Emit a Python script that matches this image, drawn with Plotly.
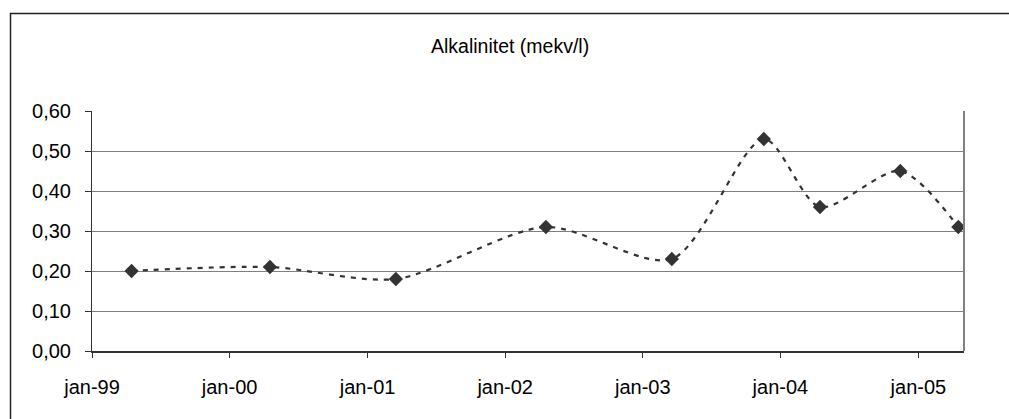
import plotly.graph_objects as go

# Sampling dates and alkalinity measurements
dates = ["1999-04-16", "2000-04-17", "2001-03-17", "2002-04-19", "2003-03-19",
         "2003-11-18", "2004-04-15", "2004-11-14", "2005-04-17"]
alkalinity = [0.20, 0.21, 0.18, 0.31, 0.23, 0.53, 0.36, 0.45, 0.31]

x_tick_dates = ["1999-01-01", "2000-01-01", "2001-01-01", "2002-01-01",
                "2003-01-01", "2004-01-01", "2005-01-01"]
x_tick_labels = ["jan-99", "jan-00", "jan-01", "jan-02", "jan-03", "jan-04", "jan-05"]
y_tick_vals = [0.0, 0.1, 0.2, 0.3, 0.4, 0.5, 0.6]
y_tick_labels = ["0,00", "0,10", "0,20", "0,30", "0,40", "0,50", "0,60"]

title_text = "Alkalinitet (mekv/l)"

W, H = 1009, 419
ML, MR, MT, MB = 92, 45, 111, 68
PW, PH = W - ML - MR, H - MT - MB

FONT = "Liberation Sans, Arial, sans-serif"

fig = go.Figure()
fig.add_trace(go.Scatter(
    x=dates, y=alkalinity,
    mode="lines+markers",
    line=dict(color="#333333", width=2.2, dash="5px,6px", shape="spline", smoothing=0.8),
    marker=dict(symbol="diamond", size=11, color="#333333"),
    showlegend=False,
))

def px_x(p):
    return (p - ML) / PW

def px_y(p):
    return (H - MB - p) / PH

shapes = [
    # outer chart frame (left and top edges visible)
    dict(type="rect", xref="paper", yref="paper",
         x0=px_x(10.5), x1=1.6, y0=-0.8, y1=px_y(13.5),
         line=dict(color="#222222", width=1.5), layer="below"),
    # right edge of the plot area
    dict(type="line", xref="paper", yref="paper",
         x0=1, x1=1, y0=0, y1=1, line=dict(color="#808080", width=2)),
]

fig.update_layout(
    width=W, height=H,
    margin=dict(l=ML, r=MR, t=MT, b=MB),
    paper_bgcolor="white", plot_bgcolor="white",
    font=dict(family=FONT, size=20, color="#000000"),
    shapes=shapes,
    annotations=[dict(text=title_text, xref="paper", yref="paper",
                      x=px_x(510), y=px_y(46), xanchor="center", yanchor="middle",
                      showarrow=False,
                      font=dict(family=FONT, size=19.5, color="#000000"))],
)

fig.update_xaxes(
    type="date",
    range=["1999-01-01", "2005-05-02"],
    tickmode="array", tickvals=x_tick_dates, ticktext=x_tick_labels,
    ticks="outside", ticklen=5, tickcolor="#333333", tickwidth=1,
    showline=True, linecolor="#333333", linewidth=2,
    showgrid=False, zeroline=False,
    ticklabelstandoff=12,
    tickfont=dict(family=FONT, size=20, color="#000000"),
)
fig.update_yaxes(
    range=[0, 0.6],
    tickmode="array", tickvals=y_tick_vals, ticktext=y_tick_labels,
    ticks="outside", ticklen=6, tickcolor="#333333", tickwidth=1,
    showline=True, linecolor="#333333", linewidth=1,
    showgrid=True, gridcolor="#808080", gridwidth=1,
    zeroline=False,
    ticklabelstandoff=10,
    tickfont=dict(family=FONT, size=20, color="#000000"),
)

fig.write_html("out.html")
